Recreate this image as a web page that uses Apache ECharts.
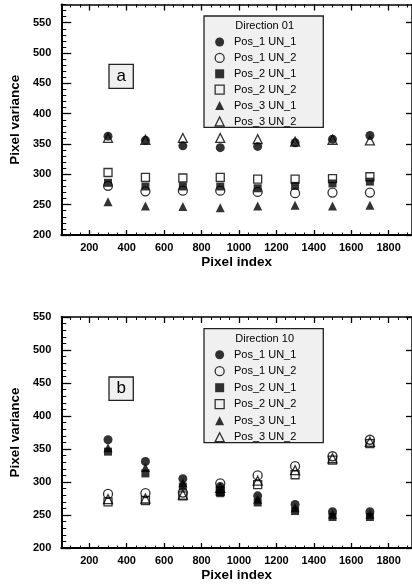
<!DOCTYPE html>
<html><head><meta charset="utf-8">
<script src="https://cdn.jsdelivr.net/npm/echarts@6/dist/echarts.min.js"></script>
<style>html,body{margin:0;padding:0;background:#fff}#c{width:412px;height:584px}</style>
</head><body><div id="c"></div>
<script>
// ---- data ----
const pixelIndex = [300, 500, 700, 900, 1100, 1300, 1500, 1700];
const seriesNames = ['Pos_1 UN_1', 'Pos_1 UN_2', 'Pos_2 UN_1', 'Pos_2 UN_2', 'Pos_3 UN_1', 'Pos_3 UN_2'];

// Direction 01 (panel a)
const d01_pos1_un1 = [363, 356, 347, 344, 346, 352, 358, 364];
const d01_pos1_un2 = [281, 272, 273, 273, 271, 269, 270, 270];
const d01_pos2_un1 = [286, 280, 280, 280, 277, 281, 285, 288];
const d01_pos2_un2 = [303, 295, 294, 295, 292, 292, 293, 296];
const d01_pos3_un1 = [255, 248, 247, 245, 248, 249, 248, 249];
const d01_pos3_un2 = [360, 357, 360, 360, 358, 354, 357, 356];

// Direction 10 (panel b)
const d10_pos1_un1 = [364, 331, 305, 293, 279, 266, 255, 255];
const d10_pos1_un2 = [282, 283, 284, 298, 310, 324, 339, 364];
const d10_pos2_un1 = [346, 313, 293, 283, 269, 256, 247, 247];
const d10_pos2_un2 = [270, 272, 279, 286, 296, 311, 333, 358];
const d10_pos3_un1 = [352, 322, 299, 288, 274, 261, 251, 251];
const d10_pos3_un2 = [274, 275, 281, 291, 302, 318, 336, 361];

// tick labels
const xTickLabels = [200, 400, 600, 800, 1000, 1200, 1400, 1600, 1800];
const yTickLabels = [200, 250, 300, 350, 400, 450, 500, 550];

// ---- styling / layout ----
const FONT = 'Liberation Sans, Arial, Helvetica, sans-serif';
const xMinorTicks = []; for (let v = 50; v <= 1900; v += 50) xMinorTicks.push(v);
const yMinorTicks = []; for (let v = 200; v <= 580; v += 10) yMinorTicks.push(v);

const symbols = ['circle', 'circle', 'rect', 'rect', 'triangle', 'triangle'];
const filled = [true, false, true, false, true, false];
const sizes = [9, 9, 8, 8, 9, 9];

const panels = [
  { top: 4.5, height: 230.5, ymax: 580, data: [d01_pos1_un1, d01_pos1_un2, d01_pos2_un1, d01_pos2_un2, d01_pos3_un1, d01_pos3_un2],
    title: 'Direction 01', letter: 'a', box: [204, 16, 119.3, 111.3], titleY: 26, legendTop: 36.5, legendGap: 4.9, letterBox: [109, 64.3, 24.3, 24] },
  { top: 317, height: 231, ymax: 550, data: [d10_pos1_un1, d10_pos1_un2, d10_pos2_un1, d10_pos2_un2, d10_pos3_un1, d10_pos3_un2],
    title: 'Direction 10', letter: 'b', box: [204, 328.7, 119.3, 114], titleY: 339.3, legendTop: 349.2, legendGap: 5.5, letterBox: [109, 377, 24.3, 23.3] }
];

const grid = [], xAxis = [], yAxis = [], series = [], legend = [], graphic = [];
const GLEFT = 61, GWIDTH = 352.5, XMAX = 1925;
const plain = v => String(v);

panels.forEach((p, gi) => {
  grid.push({ left: GLEFT, top: p.top, width: GWIDTH, height: p.height, containLabel: false });
  const xBase = { type: 'value', gridIndex: gi, min: 50, max: XMAX, splitLine: { show: false },
    axisLine: { onZero: false, lineStyle: { color: '#000', width: 2 } } };
  const xi = xAxis.length;
  xAxis.push(Object.assign({}, xBase, { position: 'bottom',
    axisTick: { inside: true, length: 5, customValues: xTickLabels, lineStyle: { color: '#000', width: 1.3 } },
    axisLabel: { customValues: xTickLabels, formatter: plain, color: '#000', fontFamily: FONT, fontWeight: 'bold', fontSize: 11, margin: 7 },
    name: 'Pixel index', nameLocation: 'middle', nameGap: 20,
    nameTextStyle: { color: '#000', fontFamily: FONT, fontWeight: 'bold', fontSize: 13.5 } }));
  xAxis.push(Object.assign({}, xBase, { position: 'bottom', axisLine: { show: false, onZero: false },
    axisTick: { inside: true, length: 2.5, customValues: xMinorTicks, lineStyle: { color: '#000', width: 1 } },
    axisLabel: { show: false } }));
  xAxis.push(Object.assign({}, xBase, { position: 'top', axisLine: { onZero: false, lineStyle: { color: '#000', width: 1.5 } },
    axisTick: { inside: true, length: 6, customValues: xTickLabels, lineStyle: { color: '#000', width: 1.3 } },
    axisLabel: { show: false } }));
  xAxis.push(Object.assign({}, xBase, { position: 'top', axisLine: { show: false, onZero: false },
    axisTick: { inside: true, length: 3, customValues: xMinorTicks, lineStyle: { color: '#000', width: 1 } },
    axisLabel: { show: false } }));

  const yBase = { type: 'value', gridIndex: gi, min: 200, max: p.ymax, splitLine: { show: false },
    axisLine: { onZero: false, lineStyle: { color: '#000', width: 2 } } };
  const yi = yAxis.length;
  yAxis.push(Object.assign({}, yBase, { position: 'left',
    axisTick: { inside: true, length: 10, customValues: yTickLabels, lineStyle: { color: '#000', width: 1.3 } },
    axisLabel: { customValues: yTickLabels, formatter: plain, color: '#000', fontFamily: FONT, fontWeight: 'bold', fontSize: 11, margin: 10 },
    name: 'Pixel variance', nameLocation: 'middle', nameGap: 30,
    nameTextStyle: { color: '#000', fontFamily: FONT, fontWeight: 'bold', fontSize: 13.5 } }));
  yAxis.push(Object.assign({}, yBase, { position: 'left', axisLine: { show: false, onZero: false },
    axisTick: { inside: true, length: 5, customValues: yMinorTicks.filter(v => v <= p.ymax), lineStyle: { color: '#000', width: 1 } },
    axisLabel: { show: false } }));
  yAxis.push(Object.assign({}, yBase, { position: 'right', axisLine: { onZero: false, lineStyle: { color: '#000', width: 1.5 } },
    axisTick: { inside: true, length: 6, customValues: yTickLabels, lineStyle: { color: '#000', width: 1.3 } },
    axisLabel: { show: false } }));

  p.data.forEach((vals, si) => {
    series.push({
      type: 'scatter', name: seriesNames[si], xAxisIndex: xi, yAxisIndex: yi,
      symbol: symbols[si], symbolSize: sizes[si],
      data: pixelIndex.map((x, k) => [x, vals[k]]),
      itemStyle: filled[si] ? { color: '#000', borderWidth: 0 } : { color: 'rgba(0,0,0,0)', borderColor: '#000', borderWidth: 1.3 },
      emphasis: { disabled: true }, z: 3
    });
  });

  legend.push({
    orient: 'vertical', left: 214.5, top: p.legendTop, padding: 0, itemWidth: 9, itemHeight: 9, itemGap: p.legendGap,
    selectedMode: false, z: 10, symbolKeepAspect: true,
    textStyle: { color: '#000', fontFamily: FONT, fontSize: 11, lineHeight: 11, padding: [0, 0, 0, 4.8] },
    data: seriesNames.map((n, si) => ({ name: n, icon: symbols[si],
      itemStyle: filled[si] ? { color: '#000', borderWidth: 0 } : { color: 'rgba(0,0,0,0)', borderColor: '#000', borderWidth: 1.3 } }))
  });

  graphic.push({ type: 'rect', z: 5, shape: { x: p.box[0], y: p.box[1], width: p.box[2], height: p.box[3] },
    style: { fill: '#f0f0f0', stroke: '#222', lineWidth: 1.3 } });
  graphic.push({ type: 'text', z: 6, x: p.box[0] + p.box[2] / 2 + 1, y: p.titleY,
    style: { text: p.title, fill: '#000', font: '11px ' + FONT, align: 'center', verticalAlign: 'middle' } });
  graphic.push({ type: 'rect', z: 5, shape: { x: p.letterBox[0], y: p.letterBox[1], width: p.letterBox[2], height: p.letterBox[3] },
    style: { fill: '#f0f0f0', stroke: '#222', lineWidth: 1.3 } });
  graphic.push({ type: 'text', z: 6, x: p.letterBox[0] + p.letterBox[2] / 2, y: p.letterBox[1] + p.letterBox[3] / 2,
    style: { text: p.letter, fill: '#000', font: '17px ' + FONT, align: 'center', verticalAlign: 'middle' } });
});

const chart = echarts.init(document.getElementById('c'), null, { renderer: 'canvas' });
chart.setOption({ animation: false, backgroundColor: '#fff', grid, xAxis, yAxis, series, legend, graphic });
</script>
</body></html>
